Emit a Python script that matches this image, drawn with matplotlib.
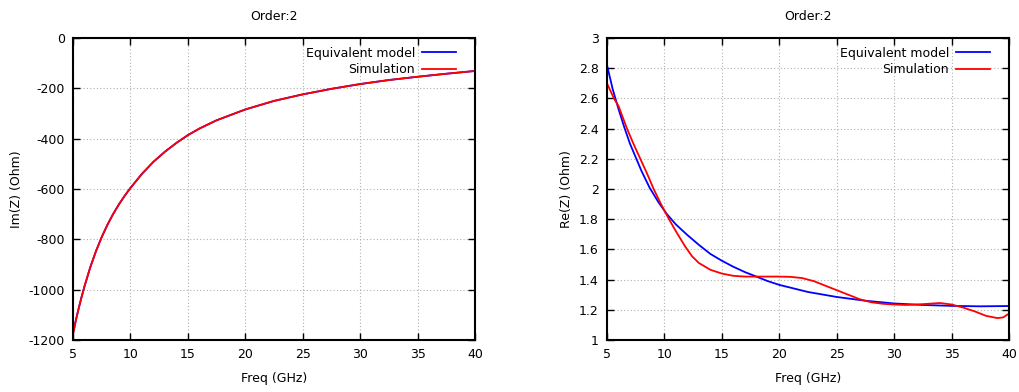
import matplotlib
matplotlib.use("Agg")
import matplotlib.pyplot as plt
from matplotlib.ticker import FormatStrFormatter, MultipleLocator

freq_im = [5, 5.25, 5.5, 5.75, 6, 6.5, 7, 7.5, 8, 8.5, 9, 9.5, 10, 11, 12, 13, 14, 15, 16, 17.5, 20, 22.5, 25, 27.5, 30, 32.5, 35, 37.5, 40]
im_model = [-1175, -1121, -1073, -1028, -987, -911, -847, -791, -742, -699, -661, -627, -596, -540, -492, -452, -417, -386, -360, -327, -284, -250, -224, -202, -183, -167, -154, -142, -131]
im_sim = [-1178, -1122, -1074, -1029, -987, -912, -847, -791, -742, -699, -661, -627, -596, -540, -492, -452, -417, -386, -360, -327, -284, -250, -224, -202, -183, -167, -154, -142, -131]

freq_re_model = [5, 5.5, 6, 6.5, 7, 7.5, 8, 8.7, 9.5, 10.2, 11, 12, 13, 14, 15, 16, 17, 18, 19, 20, 22.5, 25, 27.5, 30, 32.5, 35, 37.5, 40]
re_model = [2.82, 2.66, 2.53, 2.41, 2.30, 2.21, 2.12, 2.01, 1.91, 1.835, 1.765, 1.695, 1.63, 1.57, 1.525, 1.485, 1.45, 1.42, 1.39, 1.365, 1.318, 1.285, 1.26, 1.242, 1.232, 1.226, 1.223, 1.225]

freq_re_sim = [5, 5.6, 6, 6.74, 7.3, 7.9, 8.5, 9.06, 9.7, 10.4, 11, 11.8, 12.4, 13, 14, 15, 16, 17, 18, 19, 20, 21, 22, 23, 24, 25, 26, 27, 28, 29, 30, 31, 32, 33, 34, 35, 36, 37, 38, 39, 39.5, 40]
re_sim = [2.70, 2.60, 2.55, 2.40, 2.30, 2.20, 2.10, 2.00, 1.90, 1.80, 1.72, 1.62, 1.555, 1.51, 1.465, 1.44, 1.425, 1.42, 1.42, 1.42, 1.42, 1.418, 1.41, 1.39, 1.36, 1.33, 1.30, 1.27, 1.25, 1.24, 1.235, 1.232, 1.235, 1.24, 1.245, 1.235, 1.215, 1.19, 1.16, 1.145, 1.15, 1.175]

xticks = [5, 10, 15, 20, 25, 30, 35, 40]

plt.rcParams['font.family'] = ['DejaVu Sans']
fig = plt.figure(figsize=(10.19, 3.92), dpi=100)
W, H = 1019, 392
ax1 = fig.add_axes([73 / W, 1 - 340 / H, 402 / W, 302 / H])
ax2 = fig.add_axes([607 / W, 1 - 340 / H, 402 / W, 302 / H])

blue = '#0000ff'
red = '#ff0000'


def style(ax):
    ax.set_xlim(5, 40)
    ax.set_xticks(xticks)
    ax.grid(True, color='#b0b0b0', linestyle=(0, (1, 2)), linewidth=0.8)
    ax.tick_params(direction='in', length=5, width=1, top=True, right=True, labelsize=9, pad=6)
    for s in ax.spines.values():
        s.set_linewidth(1.5)
    ax.set_xlabel('Freq (GHz)', fontsize=9, labelpad=8)
    ax.set_title('Order:2', fontsize=9, pad=13)
    ax.yaxis.set_major_formatter(FormatStrFormatter('%g'))
    ax.legend(loc='upper right', frameon=False, markerfirst=False, fontsize=9,
              handlelength=2.7, handletextpad=0.6, labelspacing=0.25,
              borderaxespad=0.3, bbox_to_anchor=(0.975, 1.0))


ax1.plot(freq_im, im_model, color=blue, lw=1.3, label='Equivalent model')
ax1.plot(freq_im, im_sim, color=red, lw=1.3, label='Simulation')
ax1.set_ylim(-1200, 0)
ax1.yaxis.set_major_locator(MultipleLocator(200))
ax1.set_ylabel('Im(Z) (Ohm)', fontsize=9)
style(ax1)

ax2.plot(freq_re_model, re_model, color=blue, lw=1.3, label='Equivalent model')
ax2.plot(freq_re_sim, re_sim, color=red, lw=1.3, label='Simulation')
ax2.set_ylim(1, 3)
ax2.yaxis.set_major_locator(MultipleLocator(0.2))
ax2.set_ylabel('Re(Z) (Ohm)', fontsize=9)
style(ax2)

fig.savefig('out.png', dpi=100)
